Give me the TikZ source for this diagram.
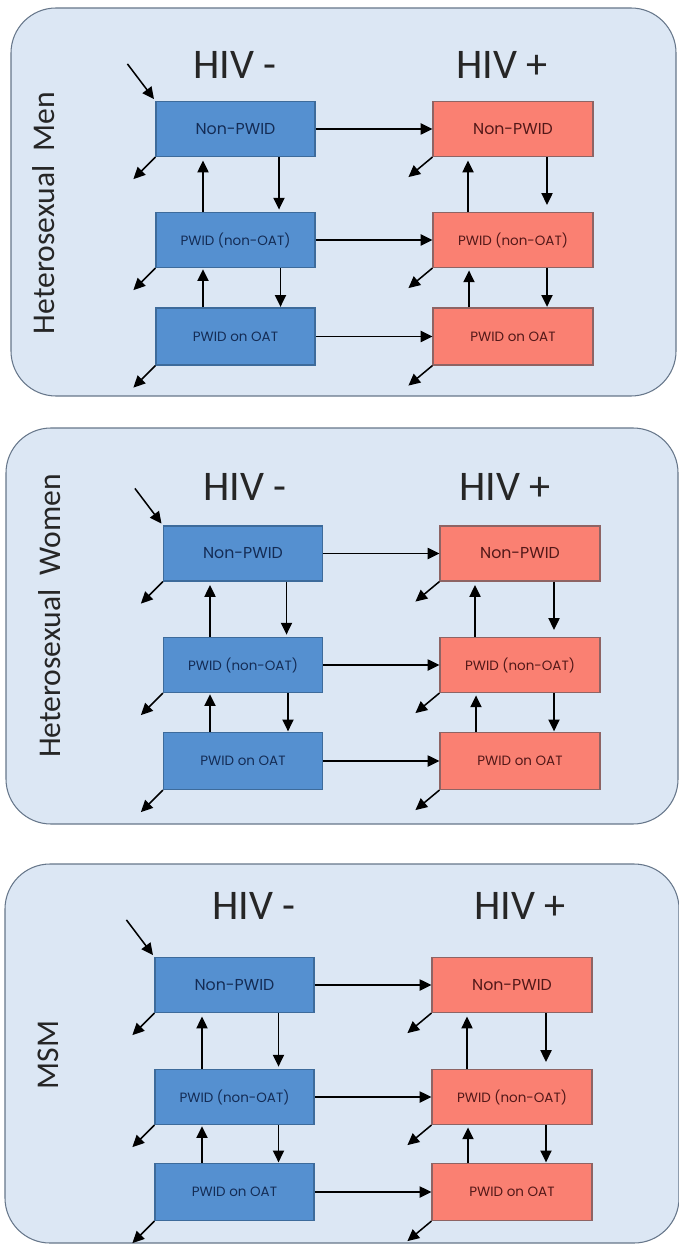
\documentclass[tikz,border=0pt]{standalone}
\usepackage{fontspec}
\setmainfont{Carlito}
\newfontfamily\boxfont{Poppins}
\usetikzlibrary{arrows.meta}

\definecolor{panelfill}{HTML}{DCE7F4}
\definecolor{panelline}{HTML}{66768A}
\definecolor{negfill}{HTML}{5590D0}
\definecolor{negline}{HTML}{3D6B9B}
\definecolor{negtext}{HTML}{142C55}
\definecolor{posfill}{HTML}{FA8072}
\definecolor{posline}{HTML}{8E6464}
\definecolor{postext}{HTML}{521818}

\begin{document}
\begin{tikzpicture}[x=0.03cm, y=-0.03cm,
	panel/.style={draw=panelline, fill=panelfill, line width=0.9pt, rounded corners=1.35cm},
	negbox/.style={draw=negline, fill=negfill, line width=1pt, minimum width=4.77cm, minimum height=1.65cm, text=negtext, font=\boxfont\fontsize{11.5}{13}\selectfont},
	posbox/.style={draw=posline, fill=posfill, line width=1pt, minimum width=4.8cm, minimum height=1.65cm, text=postext, font=\boxfont\fontsize{11.5}{13}\selectfont},
	big/.style={font=\boxfont\fontsize{13.5}{15}\selectfont},
	arr/.style={-{Triangle[length=10pt,width=9.5pt]}, line width=1.3pt},
	title/.style={font=\fontsize{36}{40}\selectfont, text=black!85},
	group/.style={rotate=90, font=\fontsize{27}{30}\selectfont, text=black!85}]
			\useasboundingbox (0,0) rectangle (678,1245);
			
			% heterosexual men
			\draw[panel] (11,8) rectangle (676,396);
			\node[group] (m-lab) at (44,213) {Heterosexual\ \ Men};
			\node[title] (m-hneg) at (235,65) {HIV -};
			\node[title] (m-hpos) at (502,65) {HIV +};
			
			\node[negbox,big] (m-neg-non) at (235.5,129) {Non-PWID};
			\node[negbox] (m-neg-pwid) at (235.5,240) {PWID (non-OAT)};
			\node[negbox,minimum height=1.71cm] (m-neg-oat) at (235.5,336.5) {PWID on OAT};
			\node[posbox,big] (m-pos-non) at (513,129) {Non-PWID};
			\node[posbox] (m-pos-pwid) at (513,240) {PWID (non-OAT)};
			\node[posbox,minimum height=1.71cm] (m-pos-oat) at (513,336.5) {PWID on OAT};
			
			\coordinate (m-in) at ([shift={(-28,-37)}]m-neg-non.north west);
			\coordinate (m-out1) at ([shift={(-22,22)}]m-neg-non.south west);
			\coordinate (m-out2) at ([shift={(-22,22)}]m-neg-pwid.south west);
			\coordinate (m-out3) at ([shift={(-22,22)}]m-neg-oat.south west);
			\coordinate (m-out4) at ([shift={(-24,20)}]m-pos-non.south west);
			\coordinate (m-out5) at ([shift={(-24,20)}]m-pos-pwid.south west);
			\coordinate (m-out6) at ([shift={(-24,20)}]m-pos-oat.south west);
			
			\draw[arr, shorten >=2pt] (m-in) -- (m-neg-non.north west);
			\draw[arr] (m-neg-non.south west) -- (m-out1);
			\draw[arr] (m-neg-pwid.south west) -- (m-out2);
			\draw[arr] (m-neg-oat.south west) -- (m-out3);
			\draw[arr] (m-pos-non.south west) -- (m-out4);
			\draw[arr] (m-pos-pwid.south west) -- (m-out5);
			\draw[arr] (m-pos-oat.south west) -- (m-out6);
			
			\draw[arr] (m-neg-non.east) -- (m-pos-non.west);
			\draw[arr] (m-neg-pwid.east) -- (m-pos-pwid.west);
			\draw[arr] (m-neg-oat.east) -- (m-pos-oat.west);
			
			\draw[arr, shorten >=3pt] ([shift={(-32.5,0)}]m-neg-pwid.north) -- ([shift={(-32.5,0)}]m-neg-non.south);
			\draw[arr, shorten >=2pt] ([shift={(43.5,0)}]m-neg-non.south) -- ([shift={(43.5,0)}]m-neg-pwid.north);
			\draw[arr, shorten >=1pt] ([shift={(-32.5,0)}]m-neg-oat.north) -- ([shift={(-32.5,0)}]m-neg-pwid.south);
			\draw[arr, shorten >=0.5pt] ([shift={(45,0)}]m-neg-pwid.south) -- ([shift={(45,0)}]m-neg-oat.north);
			\draw[arr, shorten >=3pt] ([shift={(-45,0)}]m-pos-pwid.north) -- ([shift={(-45,0)}]m-pos-non.south);
			\draw[arr, shorten >=6pt] ([shift={(34,0)}]m-pos-non.south) -- ([shift={(34,0)}]m-pos-pwid.north);
			\draw[arr, shorten >=2pt] ([shift={(-44,0)}]m-pos-oat.north) -- ([shift={(-44,0)}]m-pos-pwid.south);
			\draw[arr, shorten >=0.5pt] ([shift={(34,0)}]m-pos-pwid.south) -- ([shift={(34,0)}]m-pos-oat.north);
			
			% heterosexual women
			\draw[panel] (6,428) rectangle (678,824);
			\node[group] (w-lab) at (50,616) {Heterosexual\ \ Women};
			\node[title] (w-hneg) at (245,487) {HIV -};
			\node[title] (w-hpos) at (505,487) {HIV +};
			
			\node[negbox,big] (w-neg-non) at (243,553.5) {Non-PWID};
			\node[negbox] (w-neg-pwid) at (243,665) {PWID (non-OAT)};
			\node[negbox,minimum height=1.71cm] (w-neg-oat) at (243,761) {PWID on OAT};
			\node[posbox,big] (w-pos-non) at (520,553.5) {Non-PWID};
			\node[posbox] (w-pos-pwid) at (520,665) {PWID (non-OAT)};
			\node[posbox,minimum height=1.71cm] (w-pos-oat) at (520,761) {PWID on OAT};
			
			\coordinate (w-in) at ([shift={(-28,-37)}]w-neg-non.north west);
			\coordinate (w-out1) at ([shift={(-22,22)}]w-neg-non.south west);
			\coordinate (w-out2) at ([shift={(-22,22)}]w-neg-pwid.south west);
			\coordinate (w-out3) at ([shift={(-22,22)}]w-neg-oat.south west);
			\coordinate (w-out4) at ([shift={(-24,20)}]w-pos-non.south west);
			\coordinate (w-out5) at ([shift={(-24,20)}]w-pos-pwid.south west);
			\coordinate (w-out6) at ([shift={(-24,20)}]w-pos-oat.south west);
			
			\draw[arr, shorten >=2pt] (w-in) -- (w-neg-non.north west);
			\draw[arr] (w-neg-non.south west) -- (w-out1);
			\draw[arr] (w-neg-pwid.south west) -- (w-out2);
			\draw[arr] (w-neg-oat.south west) -- (w-out3);
			\draw[arr] (w-pos-non.south west) -- (w-out4);
			\draw[arr] (w-pos-pwid.south west) -- (w-out5);
			\draw[arr] (w-pos-oat.south west) -- (w-out6);
			
			\draw[arr] (w-neg-non.east) -- (w-pos-non.west);
			\draw[arr] (w-neg-pwid.east) -- (w-pos-pwid.west);
			\draw[arr] (w-neg-oat.east) -- (w-pos-oat.west);
			
			\draw[arr, shorten >=3pt] ([shift={(-33,0)}]w-neg-pwid.north) -- ([shift={(-33,0)}]w-neg-non.south);
			\draw[arr, shorten >=2pt] ([shift={(43.5,0)}]w-neg-non.south) -- ([shift={(43.5,0)}]w-neg-pwid.north);
			\draw[arr, shorten >=1pt] ([shift={(-33,0)}]w-neg-oat.north) -- ([shift={(-33,0)}]w-neg-pwid.south);
			\draw[arr, shorten >=0.5pt] ([shift={(45,0)}]w-neg-pwid.south) -- ([shift={(45,0)}]w-neg-oat.north);
			\draw[arr, shorten >=3pt] ([shift={(-45,0)}]w-pos-pwid.north) -- ([shift={(-45,0)}]w-pos-non.south);
			\draw[arr, shorten >=6pt] ([shift={(34,0)}]w-pos-non.south) -- ([shift={(34,0)}]w-pos-pwid.north);
			\draw[arr, shorten >=2pt] ([shift={(-44,0)}]w-pos-oat.north) -- ([shift={(-44,0)}]w-pos-pwid.south);
			\draw[arr, shorten >=0.5pt] ([shift={(34,0)}]w-pos-pwid.south) -- ([shift={(34,0)}]w-pos-oat.north);
			
			% msm
			\draw[panel] (5,864) rectangle (679,1243);
			\node[group] (s-lab) at (48,1055) {MSM};
			\node[title] (s-hneg) at (254,906) {HIV -};
			\node[title] (s-hpos) at (520,906) {HIV +};
			
			\node[negbox,big] (s-neg-non) at (234.5,985) {Non-PWID};
			\node[negbox] (s-neg-pwid) at (234.5,1097) {PWID (non-OAT)};
			\node[negbox,minimum height=1.71cm] (s-neg-oat) at (234.5,1192) {PWID on OAT};
			\node[posbox,big] (s-pos-non) at (512,985) {Non-PWID};
			\node[posbox] (s-pos-pwid) at (512,1097) {PWID (non-OAT)};
			\node[posbox,minimum height=1.71cm] (s-pos-oat) at (512,1192) {PWID on OAT};
			
			\coordinate (s-in) at ([shift={(-28,-37)}]s-neg-non.north west);
			\coordinate (s-out1) at ([shift={(-22,22)}]s-neg-non.south west);
			\coordinate (s-out2) at ([shift={(-22,22)}]s-neg-pwid.south west);
			\coordinate (s-out3) at ([shift={(-22,22)}]s-neg-oat.south west);
			\coordinate (s-out4) at ([shift={(-24,20)}]s-pos-non.south west);
			\coordinate (s-out5) at ([shift={(-24,20)}]s-pos-pwid.south west);
			\coordinate (s-out6) at ([shift={(-24,20)}]s-pos-oat.south west);
			
			\draw[arr, shorten >=2pt] (s-in) -- (s-neg-non.north west);
			\draw[arr] (s-neg-non.south west) -- (s-out1);
			\draw[arr] (s-neg-pwid.south west) -- (s-out2);
			\draw[arr] (s-neg-oat.south west) -- (s-out3);
			\draw[arr] (s-pos-non.south west) -- (s-out4);
			\draw[arr] (s-pos-pwid.south west) -- (s-out5);
			\draw[arr] (s-pos-oat.south west) -- (s-out6);
			
			\draw[arr] (s-neg-non.east) -- (s-pos-non.west);
			\draw[arr] (s-neg-pwid.east) -- (s-pos-pwid.west);
			\draw[arr] (s-neg-oat.east) -- (s-pos-oat.west);
			
			\draw[arr, shorten >=3pt] ([shift={(-32.5,0)}]s-neg-pwid.north) -- ([shift={(-32.5,0)}]s-neg-non.south);
			\draw[arr, shorten >=2pt] ([shift={(44,0)}]s-neg-non.south) -- ([shift={(44,0)}]s-neg-pwid.north);
			\draw[arr, shorten >=1pt] ([shift={(-32.5,0)}]s-neg-oat.north) -- ([shift={(-32.5,0)}]s-neg-pwid.south);
			\draw[arr, shorten >=0.5pt] ([shift={(44,0)}]s-neg-pwid.south) -- ([shift={(44,0)}]s-neg-oat.north);
			\draw[arr, shorten >=3pt] ([shift={(-45,0)}]s-pos-pwid.north) -- ([shift={(-45,0)}]s-pos-non.south);
			\draw[arr, shorten >=6pt] ([shift={(34,0)}]s-pos-non.south) -- ([shift={(34,0)}]s-pos-pwid.north);
			\draw[arr, shorten >=2pt] ([shift={(-44,0)}]s-pos-oat.north) -- ([shift={(-44,0)}]s-pos-pwid.south);
			\draw[arr, shorten >=0.5pt] ([shift={(34,0)}]s-pos-pwid.south) -- ([shift={(34,0)}]s-pos-oat.north);
		\end{tikzpicture}
\end{document}
